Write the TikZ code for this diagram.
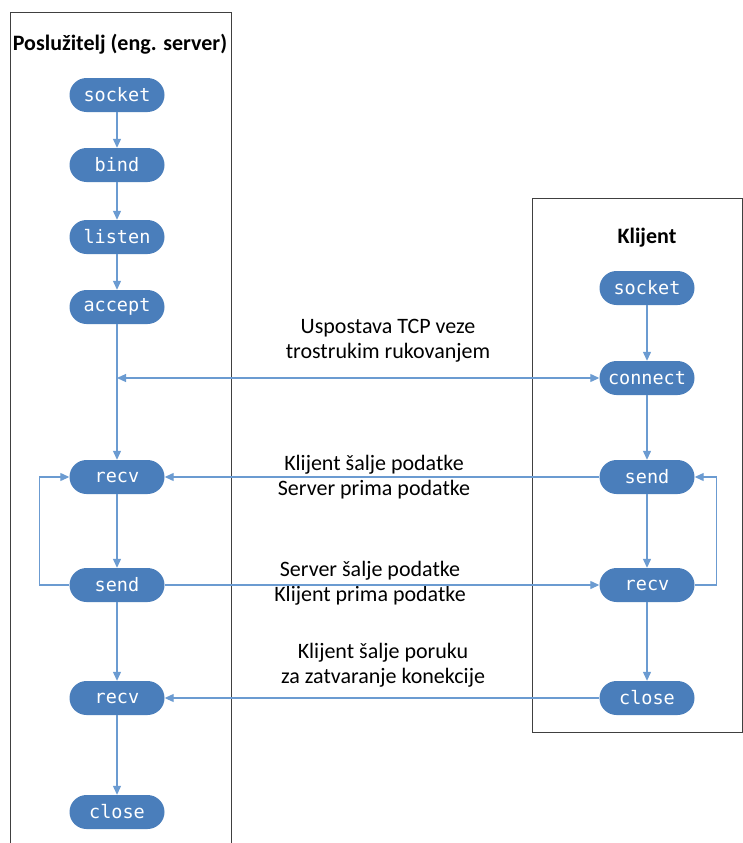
\documentclass[tikz,border=0pt]{standalone}
\usepackage{fontspec}
\setmainfont{Carlito}
\newfontfamily\codefont{DejaVu Sans Mono}
\usetikzlibrary{arrows.meta}

\definecolor{callblue}{HTML}{4A7EBB}
\definecolor{flowblue}{HTML}{6B9BD1}
\definecolor{boxgray}{HTML}{404040}

\tikzset{
 call/.style={fill=callblue, text=white, rounded corners=17pt,
   minimum width=95pt, minimum height=34pt, inner sep=0pt,
   font=\codefont\fontsize{18.5}{18.5}\selectfont},
 flow/.style={draw=flowblue, line width=1.2pt, -{Triangle[width=8pt,length=9pt]}},
 note/.style={align=center, font=\fontsize{22}{25}\selectfont},
 head/.style={font=\bfseries\fontsize{22}{24}\selectfont},
 frame/.style={draw=boxgray, line width=1pt}
}

\begin{document}
\begin{tikzpicture}[x=1pt,y=-1pt]
 \useasboundingbox (0,0) rectangle (743,843);
 % the two columns
 \draw[frame] (10,843) -- (10,13) -- (231,13) -- (231,843);
 \draw[frame] (532,198) rectangle (742,732);

 % server side
 \node[head] (stitle) at (120,44) {Poslužitelj (eng. server)};
 \node[call] (ssocket) at (117,95) {socket};
 \node[call] (sbind) at (117,165) {bind};
 \node[call] (slisten) at (117,237) {listen};
 \node[call] (saccept) at (117,307) {accept};
 \node[call] (srecv) at (117,477) {recv};
 \node[call] (ssend) at (117,585) {send};
 \node[call] (srecvb) at (117,698) {recv};
 \node[call] (sclose) at (117,812) {close};

 % client side
 \node[head] (ctitle) at (647,238) {Klijent};
 \node[call] (csocket) at (647,288) {socket};
 \node[call] (cconnect) at (647,378) {connect};
 \node[call] (csend) at (647,477) {send};
 \node[call] (crecv) at (647,585) {recv};
 \node[call] (cclose) at (647,698) {close};

 % messages
 \node[note] (nshake) at (388,341) {Uspostava TCP veze\\ trostrukim rukovanjem};
 \node[note] (ndata) at (374,477) {Klijent šalje podatke\\ Server prima podatke};
 \node[note] (nreply) at (370,583) {Server šalje podatke\\ Klijent prima podatke};
 \node[note] (nend) at (383,665) {Klijent šalje poruku\\ za zatvaranje konekcije};

 \draw[flow] (ssocket) -- (sbind);
 \draw[flow] (sbind) -- (slisten);
 \draw[flow] (slisten) -- (saccept);
 \draw[flow] (saccept) -- (srecv);
 \draw[flow] (srecv) -- (ssend);
 \draw[flow] (ssend) -- (srecvb);
 \draw[flow] (srecvb) -- (sclose);
 \draw[flow] (ssend.west) -- ++(-30,0) |- (srecv.west);

 \draw[flow] (csocket) -- (cconnect);
 \draw[flow] (cconnect) -- (csend);
 \draw[flow] (csend) -- (crecv);
 \draw[flow] (crecv) -- (cclose);
 \draw[flow] (crecv.east) -- ++(22,0) |- (csend.east);

 \coordinate (shake) at (saccept |- cconnect);
 \draw[flow, {Triangle[width=8pt,length=9pt]}-{Triangle[width=8pt,length=9pt]}] (shake) -- (cconnect);
 \draw[flow] (csend) -- (srecv);
 \draw[flow] (ssend) -- (crecv);
 \draw[flow] (cclose) -- (srecvb);
\end{tikzpicture}
\end{document}
